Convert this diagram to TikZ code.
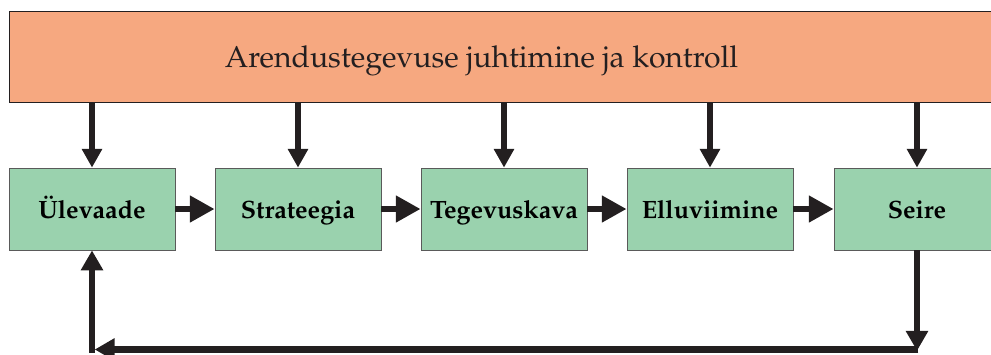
\documentclass[tikz,border=0pt]{standalone}
\usepackage[T1]{fontenc}
\renewcommand{\rmdefault}{ppl}
\usetikzlibrary{arrows.meta}
\definecolor{ctrlfill}{HTML}{F6A880}
\definecolor{stagefill}{HTML}{9AD2AE}
\definecolor{ink}{HTML}{231F20}
\definecolor{edge}{HTML}{5A5A5A}
\begin{document}
\begin{tikzpicture}[x=0.75pt,y=-0.75pt,
  ctrlbox/.style={draw=ink, line width=0.6pt, fill=ctrlfill, minimum width=991*0.75pt, minimum height=91*0.75pt, inner sep=0pt},
  stagebox/.style={draw=edge, line width=0.6pt, fill=stagefill, minimum width=166*0.75pt, minimum height=82*0.75pt, inner sep=0pt, text height=16pt, text depth=2.5pt, font=\bfseries\fontsize{18.8}{22}\selectfont},
  downarrow/.style={draw=ink, line width=3.8pt, -{Triangle[width=14.5pt,length=14pt]}},
  flowarrow/.style={draw=ink, line width=4.6pt, -{Triangle[width=19pt,length=18.5pt]}},
  backarrow/.style={draw=ink, line width=5.2pt, -{Triangle[width=16pt,length=15pt]}}]
\useasboundingbox (0,0) rectangle (991,354);

% management band
\node[ctrlbox] (ctrl) at (504.5,56.5) {};
\node[font=\fontsize{22.6}{27}\selectfont, text=ink, inner sep=0pt, text height=20pt, text depth=3.5pt] (ctrltext) at (481.5,56) {Arendustegevuse juhtimine ja kontroll};

% process stages
\node[stagebox] (s1) at (92,209)  {\"Ulevaade};
\node[stagebox] (s2) at (298,209) {Strateegia};
\node[stagebox] (s3) at (504,209) {Tegevuskava};
\node[stagebox] (s4) at (710,209) {Elluviimine};
\node[stagebox] (s5) at (917,209) {Seire};

% control arrows into each stage
\foreach \s in {s1,s2,s3,s4,s5}
  \draw[downarrow] (ctrl.south -| \s.north) -- (\s.north);

% sequence arrows
\draw[flowarrow] (s1.east) -- (s2.west);
\draw[flowarrow] (s2.east) -- (s3.west);
\draw[flowarrow] (s3.east) -- (s4.west);
\draw[flowarrow] (s4.east) -- (s5.west);

% feedback loop
\coordinate (fbR) at (917,349.5);
\coordinate (fbL) at (92,349.5);
\draw[backarrow, shorten >=-1pt] (s5.south) -- (fbR);
\draw[backarrow] ([xshift=1pt]fbR) -- ([xshift=2pt]fbL);
\draw[backarrow] ([yshift=-2.6pt]fbL) -- (s1.south);
\end{tikzpicture}
\end{document}
